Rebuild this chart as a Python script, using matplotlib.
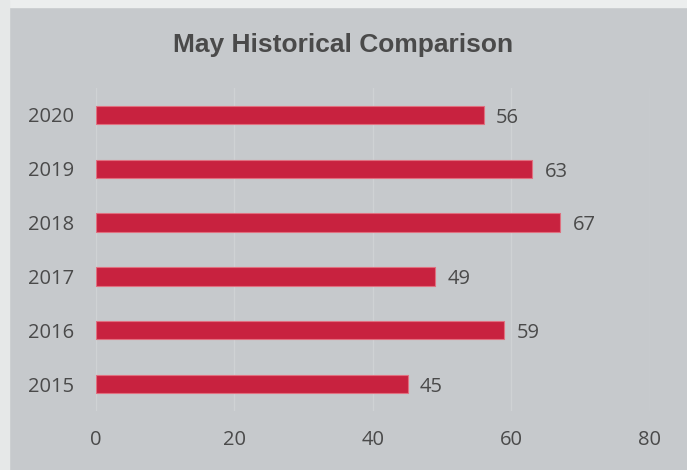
import matplotlib.pyplot as plt
from matplotlib.patches import Rectangle

years = ["2015", "2016", "2017", "2018", "2019", "2020"]
values = [45, 59, 49, 67, 63, 56]
xticks = [0, 20, 40, 60, 80]

BG = "#c6c9cc"
BAR = "#c8223f"
TXT = "#4a4a4a"

fig = plt.figure(figsize=(6.87, 4.70), dpi=100, facecolor=BG)
# scanned page edges (white strips at top and left)
fig.patches.append(Rectangle((0, 0.985), 1, 0.015, transform=fig.transFigure, color="#eceeee", zorder=0))
fig.patches.append(Rectangle((0, 0), 0.013, 1, transform=fig.transFigure, color="#e6e8e8", zorder=0))

ax = fig.add_axes([0.1397, 0.1255, 0.8063, 0.6873], facecolor=BG)

bars = ax.barh(years, values, height=0.34, color=BAR, edgecolor="#e07080", linewidth=0.8, zorder=3)
for b, v in zip(bars, values):
    ax.annotate(f"{v}", (b.get_width(), b.get_y() + b.get_height() / 2),
                xytext=(9, -2), textcoords="offset points", va="center", ha="left",
                fontsize=14.5, color=TXT, family="Open Sans")

ax.set_xlim(0, 80)
ax.set_ylim(-0.5, 5.5)
ax.set_xticks(xticks)
ax.grid(axis="x", color="#cfd2d4", lw=1.0, zorder=0)
for s in ax.spines.values():
    s.set_visible(False)
ax.tick_params(length=0, labelsize=14.5, labelcolor=TXT)
ax.tick_params(axis="y", pad=16)
ax.tick_params(axis="x", pad=14)
for lbl in ax.get_xticklabels() + ax.get_yticklabels():
    lbl.set_family("Open Sans")

fig.text(0.5, 0.905, "May Historical Comparison", ha="center", va="center",
         fontsize=19, fontweight="bold", color=TXT, family="Liberation Sans")

fig.savefig("out.png", dpi=100, facecolor=BG)
